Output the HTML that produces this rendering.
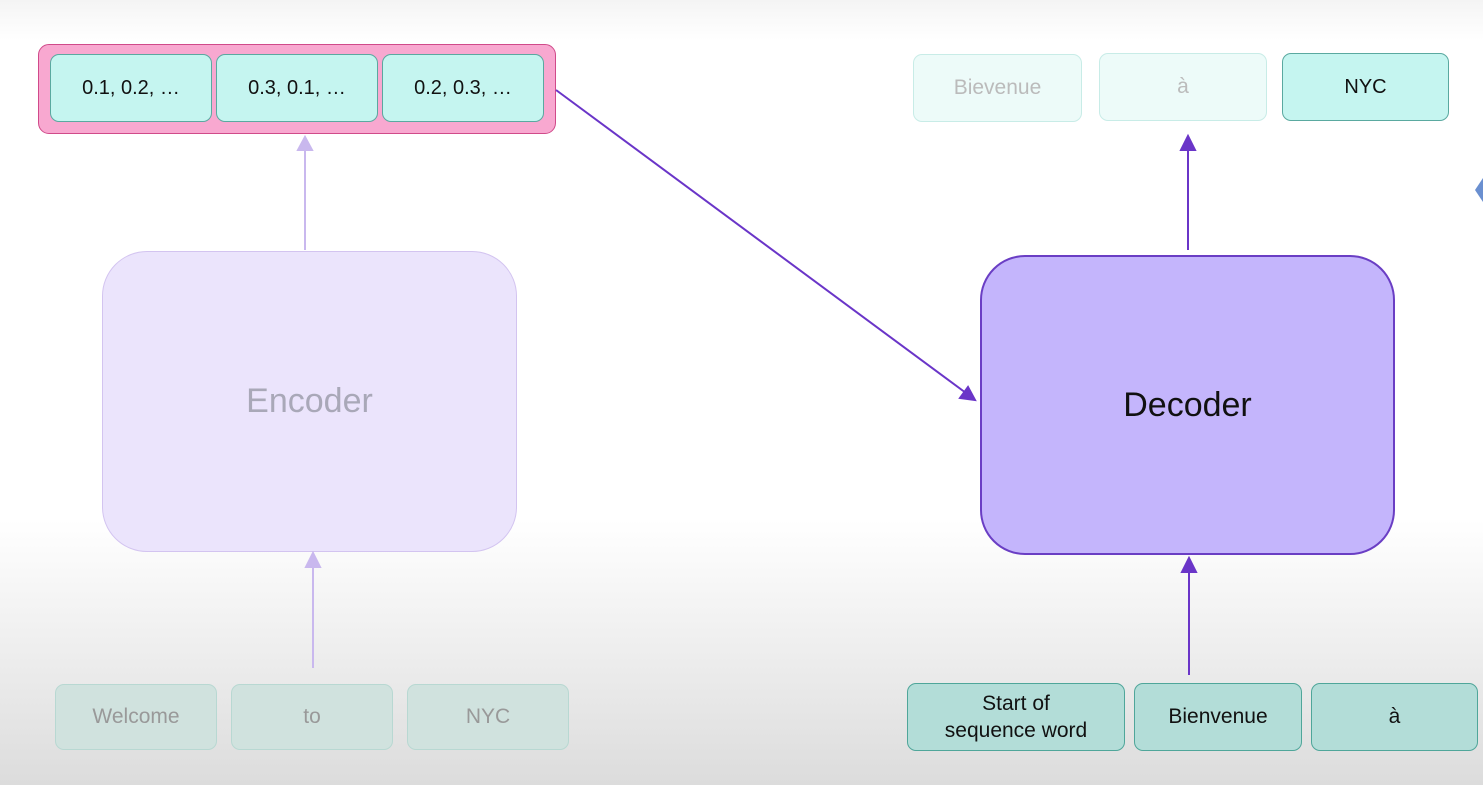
<!DOCTYPE html>
<html><head><style>
body{margin:0;width:1483px;height:785px;overflow:hidden;background:linear-gradient(#f4f4f4 0px,#fff 40px,#fff 520px,#dcdcdc 785px);font-family:"Liberation Sans","DejaVu Sans",sans-serif;position:relative}
.b{position:absolute;box-sizing:border-box;display:flex;align-items:center;justify-content:center;text-align:center;border-radius:9px}
.c{background:#c5f5f0;border:1.5px solid #5aa9a0;color:#111;font-size:20px}
.f{background:#edfbf9;border:1.5px solid #c8ece7;color:#bbb;font-size:21px}
.g{background:#d0e2de;border:1.5px solid #b8d8d2;color:#999;font-size:21px}
.t{background:#b3ddd8;border:1.5px solid #4fa69a;color:#111;font-size:21px;line-height:1.3}
</style></head><body>
<div class="b" style="left:38px;top:44px;width:518px;height:90px;background:#f8a8d0;border:1.5px solid #d04a8a;border-radius:11px"></div>
<div class="b c" style="left:50px;top:54px;width:162px;height:68px">0.1, 0.2, …</div>
<div class="b c" style="left:216px;top:54px;width:162px;height:68px">0.3, 0.1, …</div>
<div class="b c" style="left:382px;top:54px;width:162px;height:68px">0.2, 0.3, …</div>
<div class="b" style="left:102px;top:251px;width:415px;height:301px;background:#ebe4fc;border:1.5px solid #d3c4f0;border-radius:45px;color:#a9a8b8;font-size:34px">Encoder</div>
<div class="b" style="left:980px;top:255px;width:415px;height:300px;background:#c4b5fc;border:2px solid #6a3ec4;border-radius:45px;color:#111;font-size:34px">Decoder</div>
<div class="b g" style="left:55px;top:684px;width:162px;height:66px">Welcome</div>
<div class="b g" style="left:231px;top:684px;width:162px;height:66px">to</div>
<div class="b g" style="left:407px;top:684px;width:162px;height:66px">NYC</div>
<div class="b f" style="left:913px;top:54px;width:169px;height:68px">Bievenue</div>
<div class="b f" style="left:1099px;top:53px;width:168px;height:68px">à</div>
<div class="b c" style="left:1282px;top:53px;width:167px;height:68px">NYC</div>
<div class="b t" style="left:907px;top:683px;width:218px;height:68px">Start of<br>sequence word</div>
<div class="b t" style="left:1134px;top:683px;width:168px;height:68px">Bienvenue</div>
<div class="b t" style="left:1311px;top:683px;width:167px;height:68px">à</div>
<svg width="1483" height="785" style="position:absolute;left:0;top:0">
<g stroke="#c9b8ee" stroke-width="2" fill="#c9b8ee">
<line x1="305" y1="250" x2="305" y2="148"/><polygon points="298,150 312,150 305,137"/>
<line x1="313" y1="668" x2="313" y2="565"/><polygon points="306,567 320,567 313,553"/>
</g>
<g stroke="#6a35c8" stroke-width="2" fill="#6a35c8">
<line x1="1188" y1="250" x2="1188" y2="148"/><polygon points="1181,150 1195,150 1188,136"/>
<line x1="1189" y1="675" x2="1189" y2="570"/><polygon points="1182,572 1196,572 1189,558"/>
<line x1="556" y1="90" x2="966" y2="393"/><polygon points="975,400 960,398 968,387"/>
</g>
<polygon points="1483,178 1475,190 1483,202" fill="#6a8fd0"/>
</svg>
</body></html>
